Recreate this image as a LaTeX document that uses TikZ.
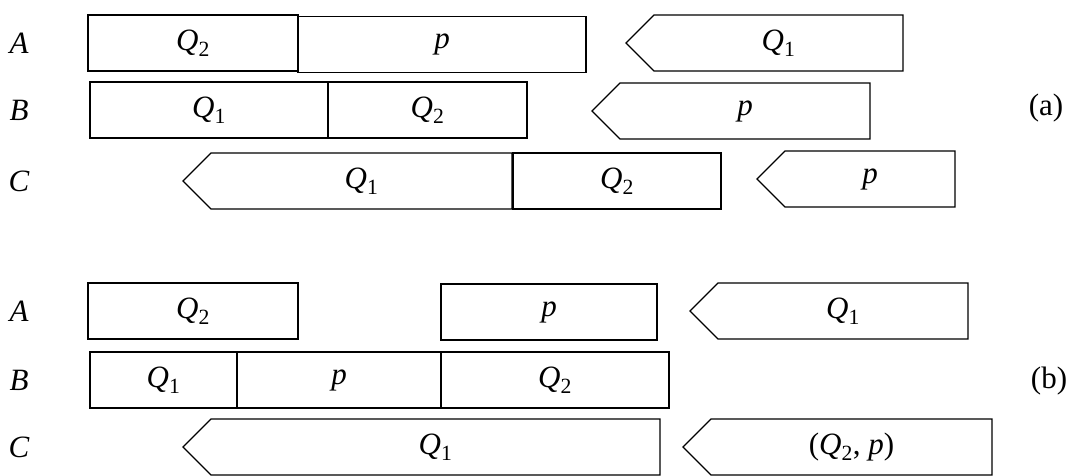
\documentclass[tikz,border=0pt]{standalone}
\usepackage{fontspec}
\setmainfont{Liberation Serif}
\usetikzlibrary{positioning,shapes.symbols}
\newcommand{\Qsub}[1]{\textit{Q}\textsubscript{#1}}

\begin{document}
\begin{tikzpicture}[x=1pt, y=-1pt,
        cell/.style={draw, line width=1.3pt, minimum height=56pt, inner sep=0pt,
                     outer sep=0pt, font=\fontsize{31}{36}\selectfont},
        tag/.style={cell, shape=signal, signal to=west, signal from=nowhere},
        rowlbl/.style={font=\fontsize{31}{36}\selectfont\itshape},
        part/.style={font=\fontsize{31}{36}\selectfont},
      ]
      \useasboundingbox (0,0) rectangle (1082,476);

      % (a)
      \node[rowlbl] (aA) at (19,43) {A};
      \node[rowlbl] (aB) at (19,110) {B};
      \node[rowlbl] (aC) at (19,181) {C};
      \node[cell, minimum width=210pt, anchor=west] (aAq2) at (88,43) {\Qsub{2}};
      \node[cell, minimum width=288pt, right=0pt of aAq2, yshift=-1.5pt] (aAp) {\textit{p}};
      \node[tag, minimum width=277pt, anchor=east] (aAq1) at (903,43) {\Qsub{1}};
      \node[cell, minimum width=238pt, anchor=west] (aBq1) at (90,110) {\Qsub{1}};
      \node[cell, minimum width=199pt, right=0pt of aBq1] (aBq2) {\Qsub{2}};
      \node[tag, minimum width=278pt, anchor=east] (aBp) at (870,111) {\textit{p}};
      \node[tag, minimum width=329pt, anchor=east] (aCq1) at (512,181) {\Qsub{1}};
      \node[cell, minimum width=208pt, right=1pt of aCq1] (aCq2) {\Qsub{2}};
      \node[tag, minimum width=198pt, anchor=east] (aCp) at (955,179) {\textit{p}};
      \node[part] (pa) at (1046,108) {(a)};

      % (b)
      \node[rowlbl] (bA) at (19,311) {A};
      \node[rowlbl] (bB) at (19,380) {B};
      \node[rowlbl] (bC) at (19,447) {C};
      \node[cell, minimum width=210pt, anchor=west] (bAq2) at (88,311) {\Qsub{2}};
      \node[cell, minimum width=216pt, anchor=west] (bAp) at (441,312) {\textit{p}};
      \node[tag, minimum width=278pt, anchor=east] (bAq1) at (968,311) {\Qsub{1}};
      \node[cell, minimum width=147pt, anchor=west] (bBq1) at (90,380) {\Qsub{1}};
      \node[cell, minimum width=204pt, right=0pt of bBq1] (bBp) {\textit{p}};
      \node[cell, minimum width=228pt, right=0pt of bBp] (bBq2) {\Qsub{2}};
      \node[tag, minimum width=477pt, anchor=east] (bCq1) at (660,447) {\Qsub{1}};
      \node[tag, minimum width=309pt, anchor=east] (bCq2p) at (992,447) {(\Qsub{2}, \textit{p})};
      \node[part] (pb) at (1049,381) {(b)};
    \end{tikzpicture}
\end{document}
